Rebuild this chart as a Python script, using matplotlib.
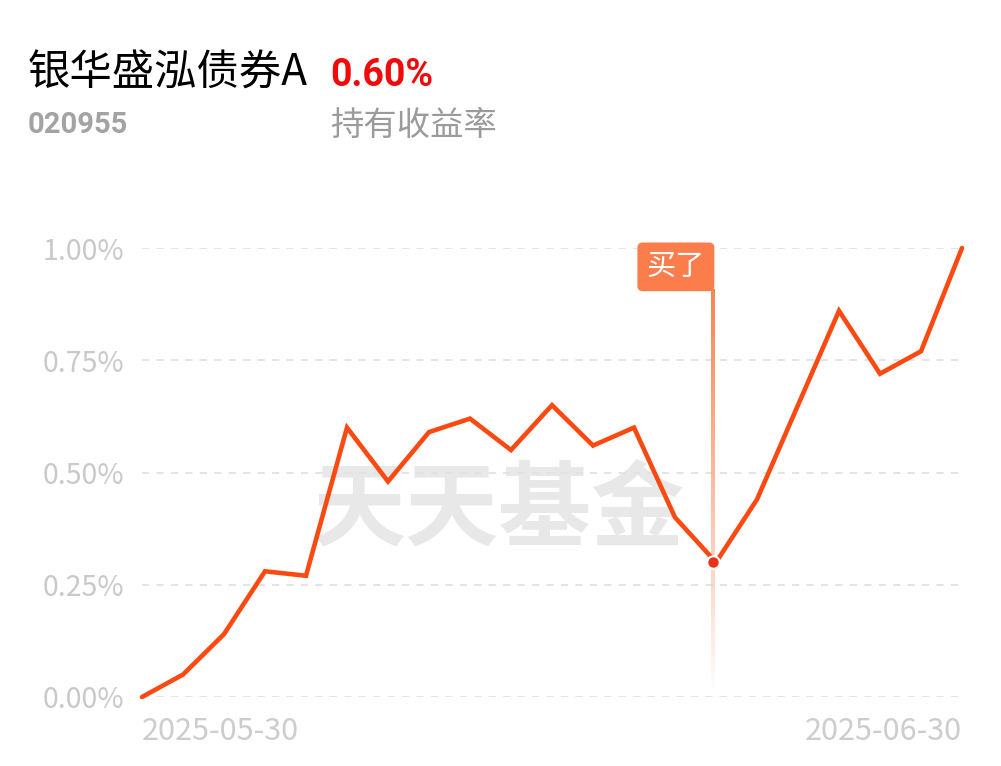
import numpy as np
import matplotlib.pyplot as plt

plt.rcParams['font.family'] = ['Noto Sans CJK SC', 'DejaVu Sans']

# fund info
fund_name = '银华盛泓债券A'
fund_code = '020955'
hold_return = '0.60%'
hold_label = '持有收益率'

# daily returns (%) between 2025-05-30 and 2025-06-30
dates = ['2025-05-30', '2025-06-03', '2025-06-04', '2025-06-05', '2025-06-06',
         '2025-06-09', '2025-06-10', '2025-06-11', '2025-06-12', '2025-06-13',
         '2025-06-16', '2025-06-17', '2025-06-18', '2025-06-19', '2025-06-20',
         '2025-06-23', '2025-06-24', '2025-06-25', '2025-06-26', '2025-06-27',
         '2025-06-30']
returns = [0.00, 0.05, 0.14, 0.28, 0.27, 0.60, 0.48, 0.59, 0.62, 0.55,
           0.65, 0.56, 0.60, 0.40, 0.30, 0.44, 0.65, 0.86, 0.72, 0.77, 1.00]
buy_date = '2025-06-20'
yticks = [0.0, 0.25, 0.5, 0.75, 1.0]

W, H = 1001, 766
fig = plt.figure(figsize=(W / 100, H / 100), dpi=100)
ax = fig.add_axes([142 / W, 69 / H, 820 / W, 449 / H])

x = np.arange(len(dates))
buy_i = dates.index(buy_date)

# grid
for v in yticks:
    ax.axhline(v, color='#e2e2e2', lw=1.3, ls=(0, (4, 4)), zorder=1)

# watermark
ax.text(0.435, 0.416, '天天基金', transform=ax.transAxes, ha='center', va='center',
        fontsize=67, fontweight='bold', color='#e8e8e8', zorder=0)

# gradient line at the buy point (a thin image column)
n = 200
grad = np.zeros((n, 1, 4))
grad[:, 0, 0] = 0.98
grad[:, 0, 1] = 0.50
grad[:, 0, 2] = 0.30
grad[:, 0, 3] = np.linspace(0.95, 0.0, n) ** 0.9
lx = buy_i - 0.07
ax.imshow(grad, extent=(lx - 0.04, lx + 0.04, 0.015, 0.906), aspect='auto',
          origin='upper', zorder=2, interpolation='nearest')

ax.plot(x, returns, color='#fa4a12', lw=3.3, solid_joinstyle='miter',
        solid_capstyle='round', zorder=3, clip_on=False)
ax.plot(lx, returns[buy_i], 'o', ms=9, mfc='#e8321a', mec='white',
        mew=1.5, zorder=4, clip_on=False)

ax.annotate('买了', xy=(buy_i, 0.958), xytext=(-11, 0), textcoords='offset pixels',
            ha='right', va='center', fontsize=21, color='white', zorder=5,
            bbox=dict(boxstyle='round,pad=0.32,rounding_size=0.18', fc='#fb7d4b', ec='none'))

ax.set_xlim(0, len(dates) - 1)
ax.set_ylim(0, 1)
ax.set_yticks(yticks)
ax.set_yticklabels(['%.2f%%' % v for v in yticks])
ax.set_xticks([0, len(dates) - 1])
ax.set_xticklabels([dates[0], dates[-1]])
xl = ax.get_xticklabels()
xl[0].set_ha('left')
xl[1].set_ha('right')
ax.tick_params(axis='y', length=0, pad=13, labelsize=20.5, labelcolor='#c9c9c9')
ax.tick_params(axis='x', length=0, pad=14, labelsize=22, labelcolor='#cdcdcd')
for s in ax.spines.values():
    s.set_visible(False)

# header
fig.text(28 / W, 1 - 74 / H, fund_name, fontsize=30.5, color='black', va='center', ha='left')
fig.text(330 / W, 1 - 76 / H, hold_return, fontsize=27, fontweight='bold', color='#f00a0a',
         va='center', ha='left', family='Roboto')
fig.text(28 / W, 1 - 125 / H, fund_code, fontsize=21, fontweight='bold', color='#a3a3a3',
         va='center', ha='left', family='Roboto')
fig.text(330 / W, 1 - 126 / H, hold_label, fontsize=24, color='#9b9b9b', va='center', ha='left')

fig.savefig('out.png', dpi=100, facecolor='white')
